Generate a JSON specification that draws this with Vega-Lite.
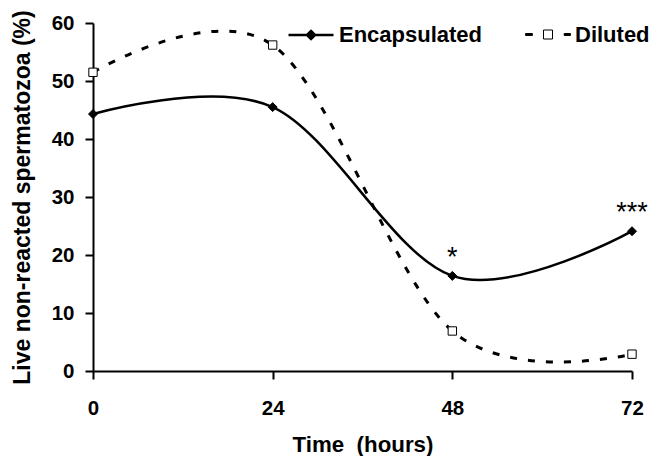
{
  "$schema": "https://vega.github.io/schema/vega-lite/v6.json",
  "width": 539,
  "height": 348,
  "autosize": "none",
  "padding": {"left": 93, "top": 23, "right": 19, "bottom": 85},
  "background": "white",
  "config": {
    "view": {"stroke": null},
    "font": "Liberation Sans",
    "axis": {
      "domainColor": "black",
      "domainWidth": 2,
      "tickColor": "black",
      "tickWidth": 2,
      "tickSize": 8,
      "grid": false,
      "labelFont": "Liberation Sans",
      "labelFontWeight": "bold",
      "labelFontSize": 20.5,
      "labelColor": "black",
      "titleFont": "Liberation Sans",
      "titleFontWeight": "bold",
      "titleColor": "black"
    }
  },
  "data": {
    "values": [
      {"time": 0, "series": "Encapsulated", "value": 44.3, "sig": ""},
      {"time": 24, "series": "Encapsulated", "value": 45.5, "sig": ""},
      {"time": 48, "series": "Encapsulated", "value": 16.4, "sig": "*"},
      {"time": 72, "series": "Encapsulated", "value": 24.1, "sig": "***"},
      {"time": 0, "series": "Diluted", "value": 51.5, "sig": ""},
      {"time": 24, "series": "Diluted", "value": 56.2, "sig": ""},
      {"time": 48, "series": "Diluted", "value": 6.9, "sig": ""},
      {"time": 72, "series": "Diluted", "value": 2.9, "sig": ""}
    ]
  },
  "encoding": {
    "x": {
      "field": "time",
      "type": "quantitative",
      "scale": {"domain": [0, 72], "nice": false, "zero": false},
      "axis": {"values": [0, 24, 48, 72], "title": "Time \u00a0(hours)", "titleFontSize": 22.3, "labelPadding": 19, "titlePadding": 15, "labelFlush": false}
    },
    "y": {
      "field": "value",
      "type": "quantitative",
      "scale": {"domain": [0, 60], "nice": false},
      "axis": {"values": [0, 10, 20, 30, 40, 50, 60], "title": "Live non-reacted spermatozoa (%)", "titleFontSize": 23, "labelPadding": 11, "titlePadding": 17, "labelFlush": false}
    }
  },
  "layer": [
    {
      "transform": [{"filter": "datum.series === 'Encapsulated'"}],
      "mark": {"type": "line", "interpolate": "cardinal", "color": "black", "strokeWidth": 2.5}
    },
    {
      "transform": [{"filter": "datum.series === 'Diluted'"}],
      "mark": {"type": "line", "interpolate": "cardinal", "color": "black", "strokeWidth": 3, "strokeDash": [7, 11]}
    },
    {
      "transform": [{"filter": "datum.series === 'Encapsulated'"}],
      "mark": {"type": "point", "shape": "diamond", "filled": true, "fill": "black", "stroke": "black", "strokeWidth": 1, "size": 81, "opacity": 1}
    },
    {
      "transform": [{"filter": "datum.series === 'Diluted'"}],
      "mark": {"type": "point", "shape": "square", "filled": true, "fill": "white", "stroke": "black", "strokeWidth": 1, "size": 70, "opacity": 1}
    },
    {
      "mark": {"type": "point", "filled": true, "stroke": "black", "opacity": 0},
      "encoding": {
        "shape": {
          "field": "series",
          "type": "nominal",
          "scale": {"domain": ["Encapsulated", "Diluted"], "range": ["M-1,0L1,0M0,-0.18L0.18,0L0,0.18L-0.18,0Z", "M-1,-0.044L-0.69,-0.044L-0.69,0L-1,0ZM-1,0L-0.69,0L-0.69,0.044L-1,0.044ZM0.72,-0.044L1,-0.044L1,0L0.72,0ZM0.72,0L1,0L1,0.044L0.72,0.044ZM-0.2,-0.2L0.2,-0.2L0.2,0.2L-0.2,0.2Z"]},
          "legend": {
            "title": null,
            "orient": "none",
            "legendX": 194,
            "legendY": -12,
            "direction": "horizontal",
            "padding": 0,
            "symbolSize": 2025,
            "symbolOpacity": 1,
            "labelFont": "Liberation Sans",
            "labelFontWeight": "bold",
            "labelFontSize": 22,
            "labelColor": "black",
            "labelOffset": 4,
            "columnPadding": 40,
            "encode": {
              "symbols": {
                "stroke": {"value": "black"},
                "strokeWidth": {"value": {"expr": "datum.value === 'Encapsulated' ? 2.5 : 1"}},
                "fill": {"value": {"expr": "datum.value === 'Encapsulated' ? 'black' : 'white'"}},
                "fillOpacity": {"value": 1},
                "strokeOpacity": {"value": 1},
                "opacity": {"value": 1}
              }
            }
          }
        },
        "fill": {
          "field": "series",
          "type": "nominal",
          "scale": {"domain": ["Encapsulated", "Diluted"], "range": ["black", "white"]}
        },
        "strokeWidth": {
          "field": "series",
          "type": "nominal",
          "scale": {"domain": ["Encapsulated", "Diluted"], "range": [2.5, 1]}
        }
      }
    },
    {
      "transform": [{"filter": "datum.sig != ''"}],
      "mark": {"type": "text", "font": "Liberation Sans", "fontSize": 27, "color": "black", "dy": -10, "align": "center", "baseline": "alphabetic"},
      "encoding": {
        "text": {"field": "sig"}
      }
    }
  ]
}
